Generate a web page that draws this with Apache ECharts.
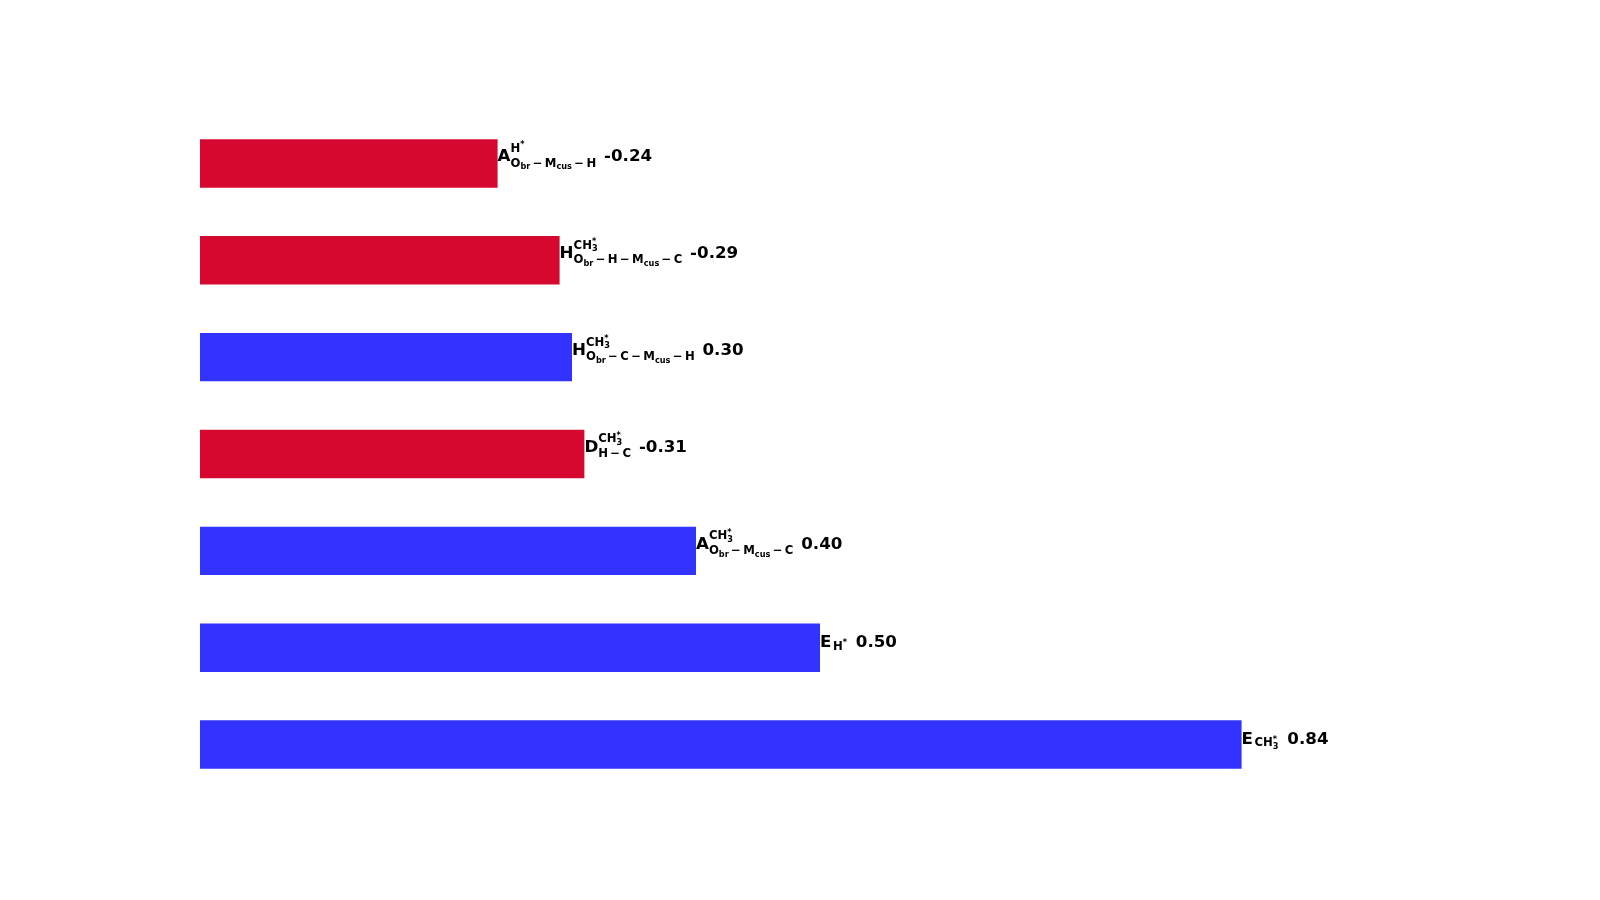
<!DOCTYPE html>
<html>
<head>
<meta charset="utf-8">
<title>barh</title>
<script src="https://cdn.jsdelivr.net/npm/echarts@6/dist/echarts.min.js"></script>
<style>
  html, body { margin: 0; padding: 0; background: #fff; }
  #main { width: 1600px; height: 900px; }
</style>
</head>
<body>
<div id="main"></div>
<script>
// 类别（从上到下）
const categories = ['A_H', 'H_CH3_a', 'H_CH3_b', 'D_CH3', 'A_CH3', 'E_H', 'E_CH3'];
// 带符号的数值，条长取绝对值
const values = [-0.24, -0.29, 0.30, -0.31, 0.40, 0.50, 0.84];
// 标签主字母
const baseLetters = ['A', 'H', 'H', 'D', 'A', 'E', 'E'];
// 上标：[文字, 层级]，-1 = 嵌套下标，1 = 嵌套上标
const superParts = [
    [['H', 0], ['*', 1]],
    [['CH', 0], ['3', -1], ['*', 1]],
    [['CH', 0], ['3', -1], ['*', 1]],
    [['CH', 0], ['3', -1], ['*', 1]],
    [['CH', 0], ['3', -1], ['*', 1]],
    [],
    []
];
// 下标
const subParts = [
    [['O', 0], ['br', -1], ['\u2009\u2212\u2009M', 0], ['cus', -1], ['\u2009\u2212\u2009H', 0]],
    [['O', 0], ['br', -1], ['\u2009\u2212\u2009H\u2009\u2212\u2009M', 0], ['cus', -1], ['\u2009\u2212\u2009C', 0]],
    [['O', 0], ['br', -1], ['\u2009\u2212\u2009C\u2009\u2212\u2009M', 0], ['cus', -1], ['\u2009\u2212\u2009H', 0]],
    [['H\u2009\u2212\u2009C', 0]],
    [['O', 0], ['br', -1], ['\u2009\u2212\u2009M', 0], ['cus', -1], ['\u2009\u2212\u2009C', 0]],
    [['H', 0], ['*', 1]],
    [['CH', 0], ['3', -1], ['*', 1]]
];

const RED = '#d6082f';
const BLUE = '#3333ff';
const FONT_FAMILY = '"DejaVu Sans"';
const FS = 16.7;

// 文字测量
const measureCtx = document.createElement('canvas').getContext('2d');
function fontStr(size) { return 'bold ' + size + 'px ' + FONT_FAMILY; }
function textWidth(text, size) {
    measureCtx.font = fontStr(size);
    return measureCtx.measureText(text).width;
}
// middle 基线到字母基线的距离
function baselineOffset(size) {
    measureCtx.font = fontStr(size);
    measureCtx.textBaseline = 'middle';
    const d = measureCtx.measureText('H').actualBoundingBoxDescent;
    measureCtx.textBaseline = 'alphabetic';
    return d;
}

function makeText(text, x, baseline, size) {
    return {
        type: 'text',
        x: x,
        y: baseline - baselineOffset(size),
        style: {
            text: text,
            font: fontStr(size),
            fill: '#000',
            align: 'left',
            verticalAlign: 'middle'
        }
    };
}

// 排版一组上标或下标
function layoutScript(parts, x, baseline, size, out) {
    const small = size * 0.7;
    let cx = x;
    let prevStart = x;
    let prevLevel = 0;
    let maxX = x;
    parts.forEach(([text, lvl]) => {
        let start = cx;
        if (lvl === 1 && prevLevel === -1) start = prevStart;
        let fs = lvl === 0 ? size : small;
        let by = baseline;
        if (lvl === -1) by = baseline + size * 0.22;
        if (lvl === 1) by = baseline - size * 0.38;
        out.push(makeText(text, start, by, fs));
        const end = start + textWidth(text, fs);
        maxX = Math.max(maxX, end);
        cx = Math.max(cx, end);
        prevStart = start;
        prevLevel = lvl;
    });
    return maxX;
}

function renderLabel(params, api) {
    const i = api.value(1);
    const pt = api.coord([api.value(0), i]);
    const hasSup = superParts[i].length > 0;
    const baseline = pt[1] + (hasSup ? -2 : -1);
    const children = [];
    let x = pt[0];
    children.push(makeText(baseLetters[i], x, baseline, FS));
    x += textWidth(baseLetters[i], FS);
    const scriptSize = FS * 0.7;
    let end = x;
    if (hasSup) {
        end = Math.max(end, layoutScript(superParts[i], x, baseline - FS * 0.57, scriptSize, children));
        end = Math.max(end, layoutScript(subParts[i], x, baseline + FS * 0.31, scriptSize, children));
    } else {
        end = Math.max(end, layoutScript(subParts[i], x + 1.5, baseline + FS * 0.17, scriptSize, children));
    }
    children.push(makeText(' ' + values[i].toFixed(2), end + (hasSup ? 2 : 3), baseline, FS));
    return { type: 'group', children: children };
}

const chart = echarts.init(document.getElementById('main'), null, { renderer: 'canvas' });
chart.setOption({
    animation: false,
    grid: { left: 200, top: 115, width: 1240, height: 678 },
    xAxis: { type: 'value', min: 0, max: 1, show: false },
    yAxis: { type: 'category', data: categories, inverse: true, show: false },
    series: [
        {
            type: 'bar',
            barWidth: '50%',
            data: values.map(v => ({
                value: Math.abs(v),
                itemStyle: { color: v < 0 ? RED : BLUE }
            }))
        },
        {
            type: 'custom',
            clip: false,
            z: 5,
            encode: { x: 0, y: 1 },
            data: values.map((v, i) => [Math.abs(v), i]),
            renderItem: renderLabel
        }
    ]
});
</script>
</body>
</html>
